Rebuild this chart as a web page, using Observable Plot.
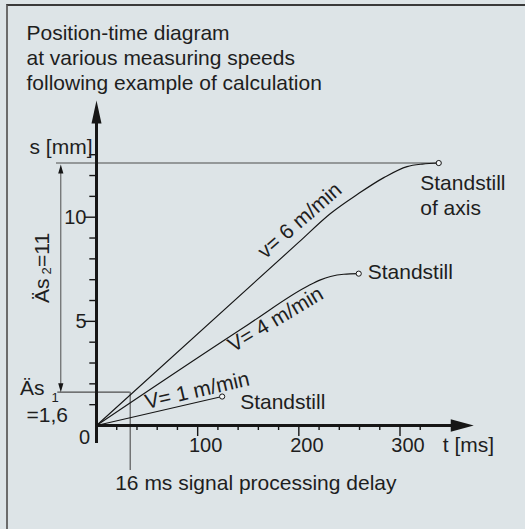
<!DOCTYPE html>
<html>
<head>
<meta charset="utf-8">
<script src="https://cdn.jsdelivr.net/npm/d3@7"></script>
<script src="https://cdn.jsdelivr.net/npm/@observablehq/plot@0.6"></script>
<style>
  html, body { margin: 0; padding: 0; background: #dde4e7; }
  #wrap { position: relative; width: 525px; height: 529px; overflow: hidden; background: #dde4e7; }
  #wrap::before { content: ""; position: absolute; left: 6px; top: 4px; right: 0; bottom: 0;
    border-left: 2px solid #6b6b6b; border-top: 2px solid #3a3a3a; pointer-events: none; }
  #wrap svg { position: absolute; left: 0; top: 0; }
</style>
</head>
<body>
<div id="wrap"></div>
<script>
// ---------- data ----------
const titleLines = ["Position-time diagram", "at various measuring speeds", "following example of calculation"];
const speedLabels = ["V= 1 m/min", "V= 4 m/min", "v= 6 m/min"];
const t1 = [0, 124.2];
const s1 = [0, 1.39];
const t4 = [0, 150, 209.8, 221.4, 231.3, 244.4, 259.2];
const s4 = [0, 4.85, 6.72, 6.99, 7.15, 7.26, 7.29];
const t6 = [0, 200, 231.3, 258, 284, 307, 322, 338.3];
const s6 = [0, 8.8, 10.18, 11.1, 11.9, 12.43, 12.55, 12.6];
const ds1 = 1.6;
const ds2 = 11;
const delayT = 33.3;          // drawn position of the delay marker
const delayText = "16 ms signal processing delay";
const standstillText = ["Standstill", "Standstill", "Standstill\nof axis"];
const xMajor = [100, 200, 300];
const xMinor = [20, 40, 60, 80, 120, 140, 160, 180, 220, 240, 260, 280, 320];
const yMajor = [5, 10];
const yMinor = [1, 2, 3, 4, 6, 7, 8, 9, 11, 12, 13];
const xAxisTitle = "t [ms]";
const yAxisTitle = "s [mm]";
const xEnd = 372.9;   // x-axis arrow tip (ms)
const yEnd = 15.6;    // y-axis arrow tip (mm)
const yBottom = -0.86;

// ---------- layout ----------
const W = 525, H = 529;
const xRange = [96, 399.5], yRange = [425, 216.7];
const kx = (xRange[1] - xRange[0]) / 300;
const ky = (yRange[0] - yRange[1]) / 10;
const tAt = px => (px - xRange[0]) / kx;   // pixel -> ms
const INK = "#161616", THIN = "#4d4d4d", TEXT = "#1e1e1e";
const FONT = "'Liberation Sans', Arial, Helvetica, sans-serif";

const series = [
  {label: speedLabels[0], t: t1, s: s1},
  {label: speedLabels[1], t: t4, s: s4},
  {label: speedLabels[2], t: t6, s: s6}
];
const rows = series.flatMap(d => d.t.map((t, i) => ({t, s: d.s[i], k: d.label})));
const ends = series.map((d, i) => ({t: d.t[d.t.length - 1], s: d.s[d.s.length - 1], text: standstillText[i]}));
const sTop = ds1 + ds2;

const head = (len, hw) => ({draw(c) { c.moveTo(0, 0); c.lineTo(hw, len); c.lineTo(-hw, len); c.closePath(); }});
const headDown = (len, hw) => ({draw(c) { c.moveTo(0, 0); c.lineTo(hw, -len); c.lineTo(-hw, -len); c.closePath(); }});

const annX = tAt(60.3);

const chart = Plot.plot({
  width: W, height: H,
  marginLeft: 0, marginRight: 0, marginTop: 0, marginBottom: 0,
  x: {domain: [0, 300], range: xRange, axis: null},
  y: {domain: [0, 10], range: yRange, axis: null},
  style: {background: "transparent", fontFamily: FONT, color: TEXT},
  marks: [
    // title
    Plot.text([titleLines.join("\n")], {frameAnchor: "top-left", dx: 26, dy: 21.6, lineAnchor: "top",
      textAnchor: "start", lineHeight: 25 / 21, fontSize: 21, fill: TEXT}),

    // thin annotation lines
    Plot.ruleY([sTop], {x1: tAt(56), x2: ends[2].t, stroke: THIN, strokeWidth: 1.1}),
    Plot.ruleY([ds1], {x1: tAt(57.3), x2: delayT, stroke: THIN, strokeWidth: 1.1}),
    Plot.ruleX([delayT], {y1: ds1, y2: -45 / ky, stroke: THIN, strokeWidth: 1.1}),
    Plot.ruleX([annX], {y1: ds1 + 6 / ky, y2: sTop - 6 / ky, stroke: THIN, strokeWidth: 1}),
    Plot.dot([sTop], {x: annX, y: d => d, dy: 1.5, symbol: head(9, 2.6), fill: INK, stroke: "none", r: 1}),
    Plot.dot([ds1], {x: annX, y: d => d, symbol: headDown(9, 2.6), fill: INK, stroke: "none", r: 1}),

    // axes
    Plot.ruleY([0], {x1: 0, x2: xEnd - 12 / kx, stroke: INK, strokeWidth: 3}),
    Plot.ruleX([0], {y1: yBottom, y2: yEnd - 12 / ky, stroke: INK, strokeWidth: 3}),
    Plot.dot([xEnd], {x: d => d, y: 0, symbol: head(23, 6.3), rotate: 90, fill: INK, stroke: "none", r: 1}),
    Plot.dot([yEnd], {x: 0, y: d => d, symbol: head(23, 5), fill: INK, stroke: "none", r: 1}),

    // ticks
    Plot.ruleX(xMinor, {x: d => d, y1: 0, y2: -5 / ky, stroke: INK, strokeWidth: 1.4}),
    Plot.ruleX(xMajor, {x: d => d, y1: 0, y2: -11 / ky, stroke: INK, strokeWidth: 1.4}),
    Plot.ruleY(yMinor, {y: d => d, x1: 0, x2: -6.7 / kx, stroke: INK, strokeWidth: 1.4}),
    Plot.ruleY(yMajor, {y: d => d, x1: 0, x2: -11 / kx, stroke: INK, strokeWidth: 1.4}),

    // tick labels
    Plot.text(xMajor, {x: d => d, y: 0, dx: 8, dy: 26, lineAnchor: "bottom", textAnchor: "middle", fontSize: 20, fill: TEXT}),
    Plot.text(yMajor, {x: 0, y: d => d, dx: -10, textAnchor: "end", lineAnchor: "middle", fontSize: 20, fill: TEXT}),
    Plot.text(["0"], {x: 0, y: 0, dx: -12, dy: 18, textAnchor: "middle", lineAnchor: "bottom", fontSize: 20, fill: TEXT}),
    Plot.text([xAxisTitle], {x: xEnd, y: 0, dx: -31, dy: 26, textAnchor: "start", lineAnchor: "bottom", fontSize: 21, fill: TEXT}),
    Plot.text([yAxisTitle], {x: 0, y: yEnd, dx: -4, dy: 53, textAnchor: "end", lineAnchor: "bottom", fontSize: 21, fill: TEXT}),

    // curves
    Plot.line(rows, {x: "t", y: "s", z: "k", curve: "monotone-x", stroke: INK, strokeWidth: 1.15}),
    Plot.dot(ends, {x: "t", y: "s", r: 2.6, stroke: INK, strokeWidth: 1, fill: "#f3f5f6"}),

    // speed labels
    Plot.text([speedLabels[0]], {x: tAt(196.7), y: 1.68, rotate: -13, textAnchor: "middle", lineAnchor: "middle", fontSize: 21, fill: TEXT}),
    Plot.text([speedLabels[1]], {x: tAt(275), y: 5.09, rotate: -31, textAnchor: "middle", lineAnchor: "middle", fontSize: 21, fill: TEXT}),
    Plot.text([speedLabels[2]], {x: tAt(299.2), y: 9.84, rotate: -41, textAnchor: "middle", lineAnchor: "middle", fontSize: 21, fill: TEXT}),

    // standstill labels
    Plot.text([ends[0]], {x: "t", y: "s", text: "text", dx: 18, dy: 12.3, textAnchor: "start", lineAnchor: "bottom", fontSize: 21, fill: TEXT}),
    Plot.text([ends[1]], {x: "t", y: "s", text: "text", dx: 9, dy: 5, textAnchor: "start", lineAnchor: "bottom", fontSize: 21, fill: TEXT}),
    Plot.text([ends[2]], {x: "t", y: "s", text: "text", dx: -18.5, dy: 51.8, textAnchor: "start", lineAnchor: "bottom", lineHeight: 25 / 21, fontSize: 21, fill: TEXT}),

    // delta labels
    Plot.text(["Äs"], {x: tAt(19.5), y: ds1, dy: 3.3, textAnchor: "start", lineAnchor: "bottom", fontSize: 21, fill: TEXT}),
    Plot.text(["1"], {x: tAt(51), y: ds1, dy: 9.5, textAnchor: "start", lineAnchor: "bottom", fontSize: 13, fill: TEXT}),
    Plot.text(["=1,6"], {x: tAt(26), y: ds1, dy: 30, textAnchor: "start", lineAnchor: "bottom", fontSize: 21, fill: TEXT}),
    Plot.text(["Äs"], {x: tAt(48.3), y: (yRange[0] - 302.5) / ky, rotate: -90, textAnchor: "start", lineAnchor: "bottom", fontSize: 21, fill: TEXT}),
    Plot.text(["2"], {x: tAt(50.5), y: (yRange[0] - 274) / ky, rotate: -90, textAnchor: "start", lineAnchor: "bottom", fontSize: 13, fill: TEXT}),
    Plot.text(["=11"], {x: tAt(48.3), y: (yRange[0] - 266.5) / ky, rotate: -90, textAnchor: "start", lineAnchor: "bottom", fontSize: 21, fill: TEXT}),

    // delay label
    Plot.text([delayText], {x: delayT, y: -45 / ky, dx: -15, dy: 19, textAnchor: "start", lineAnchor: "bottom", fontSize: 21, fill: TEXT})
  ]
});
document.getElementById("wrap").appendChild(chart);
</script>
</body>
</html>
